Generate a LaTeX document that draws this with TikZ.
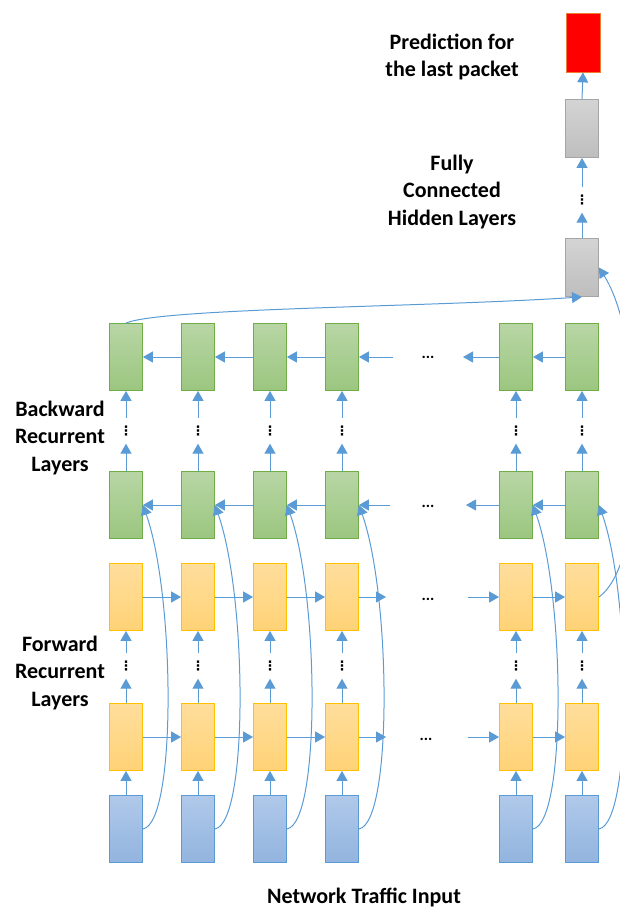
\documentclass[tikz,border=0pt]{standalone}
\usepackage{fontspec}
\setmainfont{Carlito}
\newfontfamily\dotsfont{DejaVu Sans}
\usetikzlibrary{arrows.meta}
\definecolor{linkblue}{RGB}{91,155,213}
\definecolor{intop}{RGB}{176,201,234}
\definecolor{inbot}{RGB}{146,180,222}
\definecolor{fwtop}{RGB}{255,222,156}
\definecolor{fwbot}{RGB}{255,210,118}
\definecolor{fwline}{RGB}{255,192,0}
\definecolor{bwtop}{RGB}{184,214,165}
\definecolor{bwbot}{RGB}{155,198,127}
\definecolor{bwline}{RGB}{112,173,71}
\definecolor{fctop}{RGB}{212,212,212}
\definecolor{fcbot}{RGB}{190,190,190}
\definecolor{fcline}{RGB}{165,165,165}
\begin{document}
\begin{tikzpicture}[x=1pt,y=-1pt,
  box/.style={draw,line width=0.8pt,minimum width=33pt,minimum height=67pt,inner sep=0pt},
  inbox/.style={box,draw=linkblue,top color=intop,bottom color=inbot},
  fwbox/.style={box,draw=fwline,top color=fwtop,bottom color=fwbot},
  bwbox/.style={box,draw=bwline,top color=bwtop,bottom color=bwbot},
  fcbox/.style={box,minimum height=58pt,draw=fcline,top color=fctop,bottom color=fcbot},
  outbox/.style={box,minimum height=59pt,minimum width=34pt,draw={rgb,255:red,237;green,125;blue,49},fill=red},
  vd/.style={minimum height=25pt,inner sep=0pt,font=\dotsfont\bfseries\fontsize{13}{13}\selectfont},
  hd/.style={inner sep=0pt,font=\bfseries\fontsize{16}{16}\selectfont},
  lbl/.style={align=center,font=\bfseries\fontsize{22}{27.5}\selectfont},
  link/.style={draw=linkblue,line width=1pt,-{Triangle[length=10pt,width=11pt]}}]
\useasboundingbox (0,0) rectangle (620,909);

% labels
\node[lbl] (predlbl) at (452,57) {Prediction for\\the last packet};
\node[lbl] (fclbl) at (452,192) {Fully\\Connected\\Hidden Layers};
\node[lbl] (bwlbl) at (60,438) {Backward\\Recurrent\\Layers};
\node[lbl] (fwlbl) at (60,673) {Forward\\Recurrent\\Layers};
\node[lbl] (inlbl) at (364,897) {Network Traffic Input};

% output and fully connected layers
\node[outbox] (out) at (583,42.5) {};
\node[fcbox] (fc2) at (582,128.5) {};
\node[vd] (fcd) at (582,200) {⋮};
\node[fcbox] (fc1) at (582,267.5) {};

% backward recurrent layers
\node[bwbox] (bu1) at (126,357) {};
\node[bwbox] (bu2) at (198,357) {};
\node[bwbox] (bu3) at (270,357) {};
\node[bwbox] (bu4) at (342,357) {};
\node[bwbox] (bu5) at (516,357) {};
\node[bwbox] (bu6) at (582,357) {};
\node[vd] (bd1) at (126,431) {⋮};
\node[vd] (bd2) at (198,431) {⋮};
\node[vd] (bd3) at (270,431) {⋮};
\node[vd] (bd4) at (342,431) {⋮};
\node[vd] (bd5) at (516,431) {⋮};
\node[vd] (bd6) at (582,431) {⋮};
\node[bwbox] (bl1) at (126,505) {};
\node[bwbox] (bl2) at (198,505) {};
\node[bwbox] (bl3) at (270,505) {};
\node[bwbox] (bl4) at (342,505) {};
\node[bwbox] (bl5) at (516,505) {};
\node[bwbox] (bl6) at (582,505) {};

% forward recurrent layers
\node[fwbox] (fu1) at (126,597) {};
\node[fwbox] (fu2) at (198,597) {};
\node[fwbox] (fu3) at (270,597) {};
\node[fwbox] (fu4) at (342,597) {};
\node[fwbox] (fu5) at (516,597) {};
\node[fwbox] (fu6) at (582,597) {};
\node[vd] (fd1) at (126,666) {⋮};
\node[vd] (fd2) at (198,666) {⋮};
\node[vd] (fd3) at (270,666) {⋮};
\node[vd] (fd4) at (342,666) {⋮};
\node[vd] (fd5) at (516,666) {⋮};
\node[vd] (fd6) at (582,666) {⋮};
\node[fwbox] (fl1) at (126,737) {};
\node[fwbox] (fl2) at (198,737) {};
\node[fwbox] (fl3) at (270,737) {};
\node[fwbox] (fl4) at (342,737) {};
\node[fwbox] (fl5) at (516,737) {};
\node[fwbox] (fl6) at (582,737) {};

% input
\node[inbox] (b1) at (126,829) {};
\node[inbox] (b2) at (198,829) {};
\node[inbox] (b3) at (270,829) {};
\node[inbox] (b4) at (342,829) {};
\node[inbox] (b5) at (516,829) {};
\node[inbox] (b6) at (582,829) {};

% gaps
\node[hd] (buh) at (428,357) {...};
\node[hd] (blh) at (428,506) {...};
\node[hd] (fuh) at (428,599) {...};
\node[hd] (flh) at (426,739) {...};
\coordinate (buin) at (393,357);
\coordinate (buout) at (463,357);
\coordinate (blin) at (390,505);
\coordinate (blout) at (466,505);
\coordinate (fuout) at (386,597);
\coordinate (fuin) at (468,597);
\coordinate (flout) at (386,737);
\coordinate (flin) at (468,737);

% fully connected
\path[link] (fc1.north) -- (fcd.south);
\path[link] (fcd.north) -- (fc2.south);
\path[link] (fc2.north) -- (out.south);

% backward rows
\path[link] (bu2.west) -- (bu1.east);
\path[link] (bu3.west) -- (bu2.east);
\path[link] (bu4.west) -- (bu3.east);
\path[link] (buin) -- (bu4.east);
\path[link] (bu5.west) -- (buout);
\path[link] (bu6.west) -- (bu5.east);
\path[link] (bl2.west) -- (bl1.east);
\path[link] (bl3.west) -- (bl2.east);
\path[link] (bl4.west) -- (bl3.east);
\path[link] (blin) -- (bl4.east);
\path[link] (bl5.west) -- (blout);
\path[link] (bl6.west) -- (bl5.east);

% forward rows
\path[link] (fu1.east) -- (fu2.west);
\path[link] (fu2.east) -- (fu3.west);
\path[link] (fu3.east) -- (fu4.west);
\path[link] (fu4.east) -- (fuout);
\path[link] (fuin) -- (fu5.west);
\path[link] (fu5.east) -- (fu6.west);
\path[link] (fl1.east) -- (fl2.west);
\path[link] (fl2.east) -- (fl3.west);
\path[link] (fl3.east) -- (fl4.west);
\path[link] (fl4.east) -- (flout);
\path[link] (flin) -- (fl5.west);
\path[link] (fl5.east) -- (fl6.west);

% vertical
\path[link] (b1.north) -- (fl1.south);
\path[link] (b2.north) -- (fl2.south);
\path[link] (b3.north) -- (fl3.south);
\path[link] (b4.north) -- (fl4.south);
\path[link] (b5.north) -- (fl5.south);
\path[link] (b6.north) -- (fl6.south);
\path[link] (fl1.north) -- (fd1.south);
\path[link] (fl2.north) -- (fd2.south);
\path[link] (fl3.north) -- (fd3.south);
\path[link] (fl4.north) -- (fd4.south);
\path[link] (fl5.north) -- (fd5.south);
\path[link] (fl6.north) -- (fd6.south);
\path[link] (fd1.north) -- (fu1.south);
\path[link] (fd2.north) -- (fu2.south);
\path[link] (fd3.north) -- (fu3.south);
\path[link] (fd4.north) -- (fu4.south);
\path[link] (fd5.north) -- (fu5.south);
\path[link] (fd6.north) -- (fu6.south);
\path[link] (bl1.north) -- (bd1.south);
\path[link] (bl2.north) -- (bd2.south);
\path[link] (bl3.north) -- (bd3.south);
\path[link] (bl4.north) -- (bd4.south);
\path[link] (bl5.north) -- (bd5.south);
\path[link] (bl6.north) -- (bd6.south);
\path[link] (bd1.north) -- (bu1.south);
\path[link] (bd2.north) -- (bu2.south);
\path[link] (bd3.north) -- (bu3.south);
\path[link] (bd4.north) -- (bu4.south);
\path[link] (bd5.north) -- (bu5.south);
\path[link] (bd6.north) -- (bu6.south);

% input to backward layers
\path[link] (b1.east) .. controls +(34,-6) and +(32,90) .. (bl1.east);
\path[link] (b2.east) .. controls +(34,-6) and +(32,90) .. (bl2.east);
\path[link] (b3.east) .. controls +(34,-6) and +(32,90) .. (bl3.east);
\path[link] (b4.east) .. controls +(34,-6) and +(32,90) .. (bl4.east);
\path[link] (b5.east) .. controls +(34,-6) and +(32,90) .. (bl5.east);
\path[link] (b6.east) .. controls +(34,-6) and +(32,90) .. (bl6.east);

% to fully connected
\path[link] (fu6.east) .. controls +(52,-37) and +(46,72) .. (fc1.east);
\path[link] (bu1.north) .. controls (160,308) and (432,307) .. (fc1.south);
\end{tikzpicture}
\end{document}
